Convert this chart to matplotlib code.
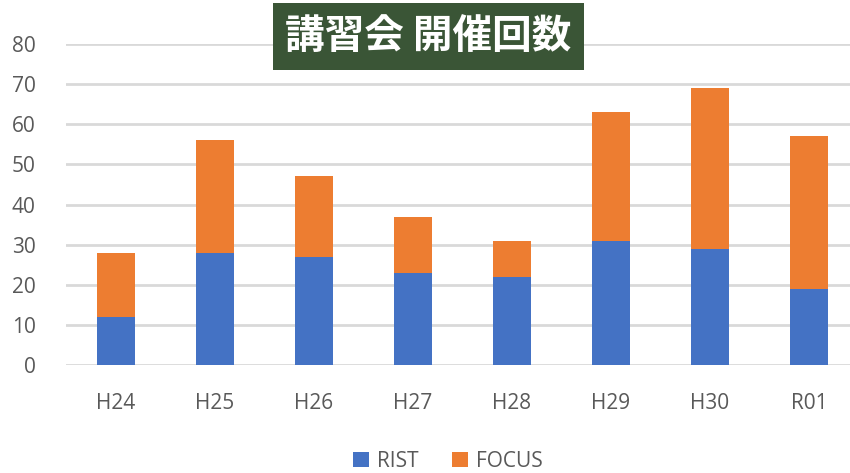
import matplotlib.pyplot as plt
import numpy as np

# data
years = ["H24", "H25", "H26", "H27", "H28", "H29", "H30", "R01"]
rist = [12, 28, 27, 23, 22, 31, 29, 19]
focus = [16, 28, 20, 14, 9, 32, 40, 38]
series_names = ["RIST", "FOCUS"]
title = "講習会 開催回数"

plt.rcParams['font.family'] = ['Open Sans', 'Noto Sans CJK JP', 'DejaVu Sans']

fig = plt.figure(figsize=(8.5, 4.73), dpi=100)
ax = fig.add_axes([0.078, 0.228, 0.932, 0.679])

x = np.arange(len(years))
ax.bar(x, rist, width=0.39, color='#4472C4', label=series_names[0], zorder=3)
ax.bar(x, focus, bottom=rist, width=0.39, color='#ED7D31', label=series_names[1], zorder=3)

ax.set_xlim(-0.5, len(years) - 0.5)
ax.set_ylim(0, 80)
ax.set_yticks(range(0, 81, 10))
ax.set_xticks(x)
ax.set_xticklabels(years)
ax.tick_params(axis='both', length=0, labelsize=15, colors='#595959')
ax.tick_params(axis='y', pad=22)
ax.tick_params(axis='x', pad=20)
ax.grid(axis='y', color='#D9D9D9', linewidth=2, zorder=0)
for s in ax.spines.values():
    s.set_visible(False)

ax.legend(loc='center', bbox_to_anchor=(0.482, -0.3), ncol=2, frameon=False,
          fontsize=15, labelcolor='#595959', handlelength=0.75, handleheight=0.75,
          columnspacing=1.6, handletextpad=0.4)

fig.text(0.504, 0.923, title, ha='center', va='center', fontsize=28.5, fontweight='bold',
         color='white', family=['Noto Sans CJK JP'],
         bbox=dict(boxstyle='square,pad=0.32', facecolor='#3A5536', edgecolor='none'))

fig.savefig('out.png', dpi=100)
